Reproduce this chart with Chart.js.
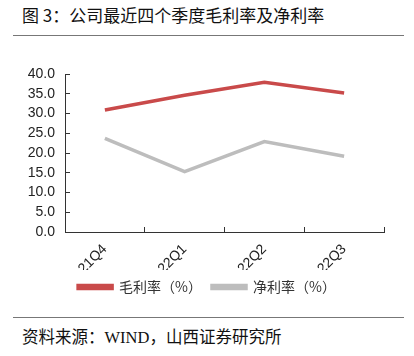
<!DOCTYPE html>
<html><head><meta charset="utf-8">
<script src="https://cdn.jsdelivr.net/npm/chart.js@4"></script>
<style>
html,body{margin:0;padding:0;background:#fff;width:414px;height:356px;overflow:hidden;font-family:"Noto Sans CJK SC","Liberation Sans",sans-serif;}
#title{position:absolute;left:22px;top:2px;font-size:17px;line-height:26px;color:#111;white-space:nowrap;}
#line1{position:absolute;left:13px;top:35px;width:391px;height:1px;background:#777;}
#line2{position:absolute;left:13px;top:317px;width:391px;height:1px;background:#777;}
#src{position:absolute;left:22px;top:323px;font-size:16.5px;line-height:26px;color:#111;white-space:nowrap;}
#src .en{font-family:"Liberation Serif",serif;}
#wrap{position:absolute;left:0;top:40px;width:414px;height:264px;}
</style></head>
<body>
<div id="title">图 3：公司最近四个季度毛利率及净利率</div>
<div id="line1"></div>
<div id="wrap"><canvas id="c" width="414" height="264"></canvas></div>
<div id="line2"></div>
<div id="src">资料来源：<span class="en">WIND</span>，山西证券研究所</div>
<script>
const categories = ["21Q4", "22Q1", "22Q2", "22Q3"];
const grossMargin = [30.9, 34.6, 37.9, 35.2];
const netMargin = [23.7, 15.3, 22.9, 19.2];
const seriesNames = ["毛利率（%）", "净利率（%）"];
const yTicks = [0, 5, 10, 15, 20, 25, 30, 35, 40];

new Chart(document.getElementById('c'), {
  type: 'line',
  data: {
    labels: categories,
    datasets: [
      {label: seriesNames[0], data: grossMargin, borderColor: '#c94a4a', backgroundColor: '#c94a4a', borderWidth: 3.5, pointRadius: 0, tension: 0},
      {label: seriesNames[1], data: netMargin, borderColor: '#bdbdbd', backgroundColor: '#bdbdbd', borderWidth: 3.5, pointRadius: 0, tension: 0}
    ]
  },
  options: {
    responsive: false,
    animation: false,
    events: [],
    layout: {padding: {left: 0, right: 0, top: 34, bottom: 0}},
    plugins: {
      tooltip: {enabled: false},
      legend: {
        position: 'bottom',
        labels: {
          boxWidth: 34, boxHeight: 3, padding: 10,
          font: {family: '"Noto Sans CJK SC", sans-serif', size: 14},
          color: '#333'
        }
      }
    },
    scales: {
      x: {
        offset: true,
        grid: {display: true, drawOnChartArea: false, offset: true, tickLength: -5, color: '#333', tickColor: '#333'},
        border: {display: true, color: '#333', width: 1},
        ticks: {
          maxRotation: 45, minRotation: 45, padding: 14, autoSkip: false,
          font: {family: '"Liberation Sans", Arial, sans-serif', size: 14},
          color: '#222'
        },
        afterFit: (s) => { s.height = 38; }
      },
      y: {
        min: 0, max: 40,
        afterBuildTicks: (s) => { s.ticks = yTicks.map(v => ({value: v})); },
        grid: {display: true, drawOnChartArea: false, tickLength: -5, color: '#333', tickColor: '#333'},
        border: {display: true, color: '#333', width: 1},
        ticks: {
          padding: 15, autoSkip: false,
          callback: (v) => Number(v).toFixed(1),
          font: {family: '"Liberation Sans", Arial, sans-serif', size: 14},
          color: '#222'
        },
        afterFit: (s) => { s.width = 65; }
      },
      yRight: {
        position: 'right',
        min: 0, max: 40,
        grid: {display: false, drawTicks: false},
        border: {display: false},
        ticks: {display: false},
        afterFit: (s) => { s.width = 30; }
      }
    }
  }
});
</script>
</body></html>
